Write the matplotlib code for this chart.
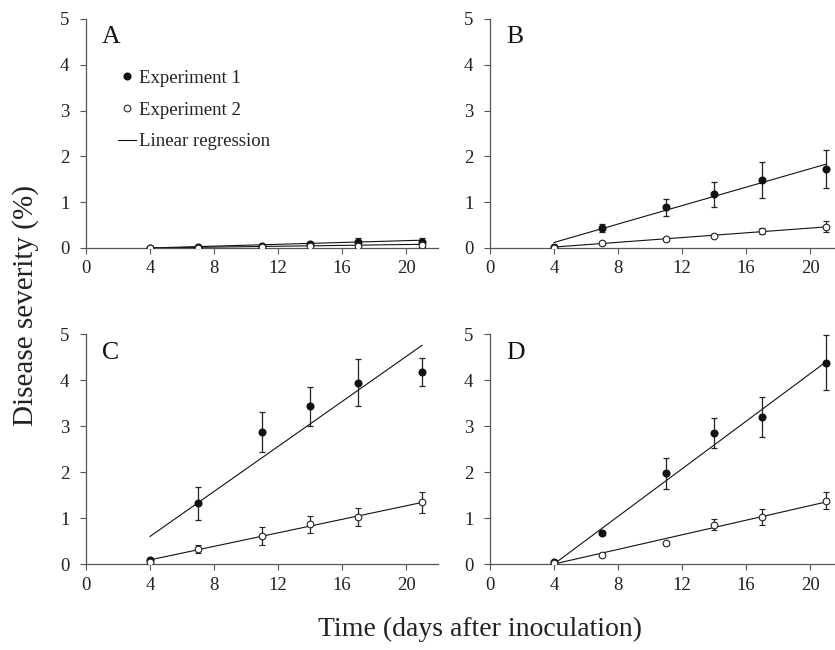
import matplotlib
matplotlib.use('Agg')
import matplotlib.pyplot as plt
from matplotlib.lines import Line2D

plt.rcParams['font.family'] = ['Liberation Serif', 'DejaVu Serif']

days = [4, 7, 11, 14, 17, 21]
panels = ['A', 'B', 'C', 'D']

# experiment 1 (filled) mean severity and error
exp1 = {
    'A': [0.00, 0.02, 0.05, 0.09, 0.12, 0.14],
    'B': [0.03, 0.44, 0.89, 1.17, 1.48, 1.72],
    'C': [0.09, 1.32, 2.87, 3.43, 3.95, 4.18],
    'D': [0.05, 0.67, 1.97, 2.85, 3.20, 4.38],
}
err1 = {
    'A': [0.00, 0.01, 0.02, 0.04, 0.10, 0.08],
    'B': [0.02, 0.09, 0.19, 0.28, 0.39, 0.42],
    'C': [0.03, 0.36, 0.43, 0.42, 0.52, 0.31],
    'D': [0.02, 0.00, 0.33, 0.33, 0.44, 0.60],
}
# experiment 2 (open)
exp2 = {
    'A': [0.00, 0.01, 0.02, 0.04, 0.05, 0.07],
    'B': [0.01, 0.10, 0.19, 0.27, 0.37, 0.46],
    'C': [0.04, 0.33, 0.61, 0.86, 1.02, 1.34],
    'D': [0.02, 0.19, 0.45, 0.85, 1.02, 1.38],
}
err2 = {
    'A': [0.00, 0.01, 0.01, 0.02, 0.03, 0.04],
    'B': [0.01, 0.03, 0.03, 0.04, 0.07, 0.12],
    'C': [0.02, 0.08, 0.19, 0.19, 0.19, 0.22],
    'D': [0.01, 0.04, 0.03, 0.12, 0.18, 0.18],
}
# regression line values at day 4 and day 21
fit1 = {'A': [0.00, 0.17], 'B': [0.12, 1.83], 'C': [0.60, 4.76], 'D': [0.00, 4.40]}
fit2 = {'A': [0.00, 0.08], 'B': [0.02, 0.46], 'C': [0.09, 1.34], 'D': [0.00, 1.35]}
fit_x = [4, 21]

x_ticks = [0, 4, 8, 12, 16, 20]
y_ticks = [0, 1, 2, 3, 4, 5]

axis_col = '#555555'
text_col = '#222222'

fig = plt.figure(figsize=(8.35, 6.5), dpi=100)

boxes = {
    'A': [0.103, 0.6185, 0.4216, 0.3523],
    'B': [0.5868, 0.6185, 0.4216, 0.3523],
    'C': [0.103, 0.1323, 0.4216, 0.3534],
    'D': [0.5868, 0.1323, 0.4216, 0.3534],
}

for p in panels:
    ax = fig.add_axes(boxes[p])
    ax.plot(fit_x, fit1[p], color='#111111', lw=0.8, zorder=2)
    ax.plot(fit_x, fit2[p], color='#111111', lw=0.8, zorder=2)
    ax.errorbar(days, exp1[p], yerr=err1[p], fmt='o', ms=4.8, mfc='#111111',
                mec='#111111', ecolor='#222222', elinewidth=0.9, capsize=2,
                capthick=0.9, zorder=3)
    ax.errorbar(days, exp2[p], yerr=err2[p], fmt='o', ms=4.8, mfc='white',
                mec='#222222', mew=0.8, ecolor='#222222', elinewidth=0.9,
                capsize=2, capthick=0.9, zorder=3)
    ax.set_xlim(0, 22)
    ax.set_ylim(0, 5)
    ax.set_xticks(x_ticks)
    ax.set_yticks(y_ticks)
    for s in ['top', 'right']:
        ax.spines[s].set_visible(False)
    for s in ['left', 'bottom']:
        ax.spines[s].set_color(axis_col)
        ax.spines[s].set_linewidth(0.9)
    ax.tick_params(direction='out', length=4, width=0.8, color=axis_col,
                   labelsize=13.5, labelcolor=text_col)
    ax.tick_params(axis='x', pad=5)
    ax.tick_params(axis='y', pad=8)
    ax.text(0.045, 0.893, p, transform=ax.transAxes, fontsize=18.5,
            color='#111111', va='baseline', ha='left')

    if p == 'A':
        handles = [
            Line2D([], [], ls='none', marker='o', ms=4.8, mfc='#111111', mec='#111111'),
            Line2D([], [], ls='none', marker='o', ms=4.8, mfc='white', mec='#222222', mew=0.8),
            Line2D([], [], color='#111111', lw=0.8),
        ]
        labels = ['Experiment 1', 'Experiment 2', 'Linear regression']
        ax.legend(handles, labels, loc='upper left', bbox_to_anchor=(0.09, 0.778),
                  frameon=False, fontsize=13.5, handlelength=1.0,
                  handletextpad=0.12, labelspacing=0.78, borderpad=0,
                  borderaxespad=0, labelcolor=text_col)

fig.text(0.03, 0.53, 'Disease severity (%)', rotation=90, fontsize=21,
         color=text_col, ha='center', va='center')
fig.text(0.575, 0.031, 'Time (days after inoculation)', fontsize=20,
         color=text_col, ha='center', va='center')

fig.savefig('out.png', dpi=100)
